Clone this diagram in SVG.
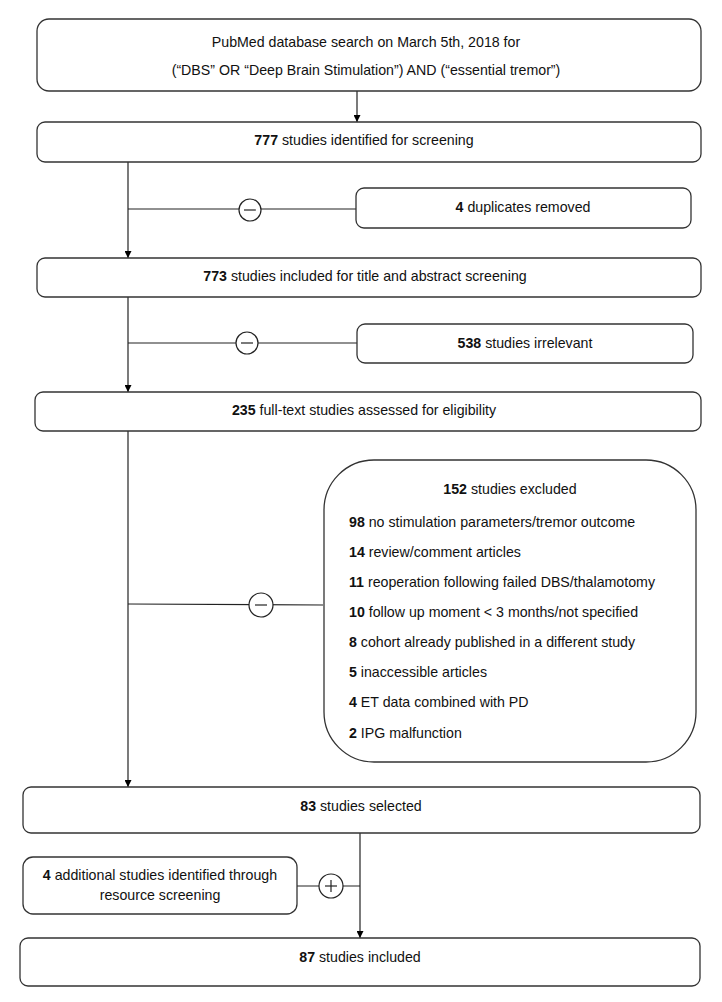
<svg xmlns="http://www.w3.org/2000/svg" width="722" height="1002" viewBox="0 0 722 1002">
<defs>
<marker id="arr" viewBox="0 0 10 10" refX="10" refY="5" markerWidth="7" markerHeight="7" orient="auto" markerUnits="userSpaceOnUse"><path d="M0,0 L10,5 L0,10 z" fill="#000"/></marker>
<style>
.box{fill:#fff;stroke:#333;stroke-width:1.3}
.ln{fill:none;stroke:#222;stroke-width:1.2}
.c{fill:#fff;stroke:#222;stroke-width:1.2}
text{font-family:"Liberation Sans",Arial,sans-serif;font-size:14.2px;fill:#111}
.m{text-anchor:middle}
.b{font-weight:bold}
</style>
</defs>
<rect width="722" height="1002" fill="#fff"/>
<g id="connectors">
<line class="ln" x1="357" y1="91" x2="357" y2="122" marker-end="url(#arr)"/>
<line class="ln" x1="128" y1="162" x2="128" y2="258" marker-end="url(#arr)"/>
<line class="ln" x1="128" y1="209" x2="356" y2="209"/>
<circle class="c" cx="250" cy="210" r="11"/><line class="ln" x1="244" y1="210" x2="256" y2="210"/>
<line class="ln" x1="128" y1="297" x2="128" y2="392" marker-end="url(#arr)"/>
<line class="ln" x1="128" y1="343" x2="357" y2="343"/>
<circle class="c" cx="247" cy="343" r="11"/><line class="ln" x1="241" y1="343" x2="253" y2="343"/>
<line class="ln" x1="128" y1="431" x2="128" y2="787" marker-end="url(#arr)"/>
<line class="ln" x1="128" y1="604" x2="323" y2="605"/>
<circle class="c" cx="261" cy="605" r="12"/><line class="ln" x1="255" y1="605" x2="267" y2="605"/>
<line class="ln" x1="360" y1="833" x2="360" y2="938" marker-end="url(#arr)"/>
<line class="ln" x1="297" y1="886" x2="360" y2="886"/>
<circle class="c" cx="331" cy="886" r="12"/><line class="ln" x1="325" y1="886" x2="337" y2="886"/><line class="ln" x1="331" y1="880" x2="331" y2="892"/>
</g>
<g id="search">
<rect class="box" x="37" y="19" width="664" height="72" rx="12"/>
<text class="m" x="366" y="47">PubMed database search on March 5th, 2018 for</text>
<text class="m" x="366" y="75">(“DBS” OR “Deep Brain Stimulation”) AND (“essential tremor”)</text>
</g>
<g id="identified">
<rect class="box" x="37" y="122" width="664" height="40" rx="8"/>
<text class="m" x="364" y="145"><tspan class="b">777</tspan> studies identified for screening</text>
</g>
<g id="duplicates">
<rect class="box" x="356" y="188" width="335" height="40" rx="8"/>
<text class="m" x="523" y="212"><tspan class="b">4</tspan> duplicates removed</text>
</g>
<g id="included-screening">
<rect class="box" x="37" y="258" width="664" height="39" rx="8"/>
<text class="m" x="365" y="281"><tspan class="b">773</tspan> studies included for title and abstract screening</text>
</g>
<g id="irrelevant">
<rect class="box" x="357" y="324" width="336" height="39" rx="8"/>
<text class="m" x="525" y="348"><tspan class="b">538</tspan> studies irrelevant</text>
</g>
<g id="fulltext">
<rect class="box" x="35" y="392" width="666" height="39" rx="8"/>
<text class="m" x="364" y="415"><tspan class="b">235</tspan> full-text studies assessed for eligibility</text>
</g>
<g id="excluded">
<rect class="box" x="324" y="460" width="372" height="302" rx="50"/>
<text class="m" x="510" y="494"><tspan class="b">152</tspan> studies excluded</text>
<text x="349" y="527"><tspan class="b">98</tspan> no stimulation parameters/tremor outcome</text>
<text x="349" y="557"><tspan class="b">14</tspan> review/comment articles</text>
<text x="349" y="587"><tspan class="b">11</tspan> reoperation following failed DBS/thalamotomy</text>
<text x="349" y="617"><tspan class="b">10</tspan> follow up moment &lt; 3 months/not specified</text>
<text x="349" y="647"><tspan class="b">8</tspan> cohort already published in a different study</text>
<text x="349" y="677"><tspan class="b">5</tspan> inaccessible articles</text>
<text x="349" y="707"><tspan class="b">4</tspan> ET data combined with PD</text>
<text x="349" y="738"><tspan class="b">2</tspan> IPG malfunction</text>
</g>
<g id="selected">
<rect class="box" x="23" y="787" width="677" height="46" rx="8"/>
<text class="m" x="361" y="811"><tspan class="b">83</tspan> studies selected</text>
</g>
<g id="additional">
<rect class="box" x="23" y="857" width="274" height="57" rx="10"/>
<text class="m" x="160" y="880"><tspan class="b">4</tspan> additional studies identified through</text>
<text class="m" x="160" y="900">resource screening</text>
</g>
<g id="final">
<rect class="box" x="20" y="938" width="680" height="48" rx="8"/>
<text class="m" x="360" y="962"><tspan class="b">87</tspan> studies included</text>
</g>
</svg>
